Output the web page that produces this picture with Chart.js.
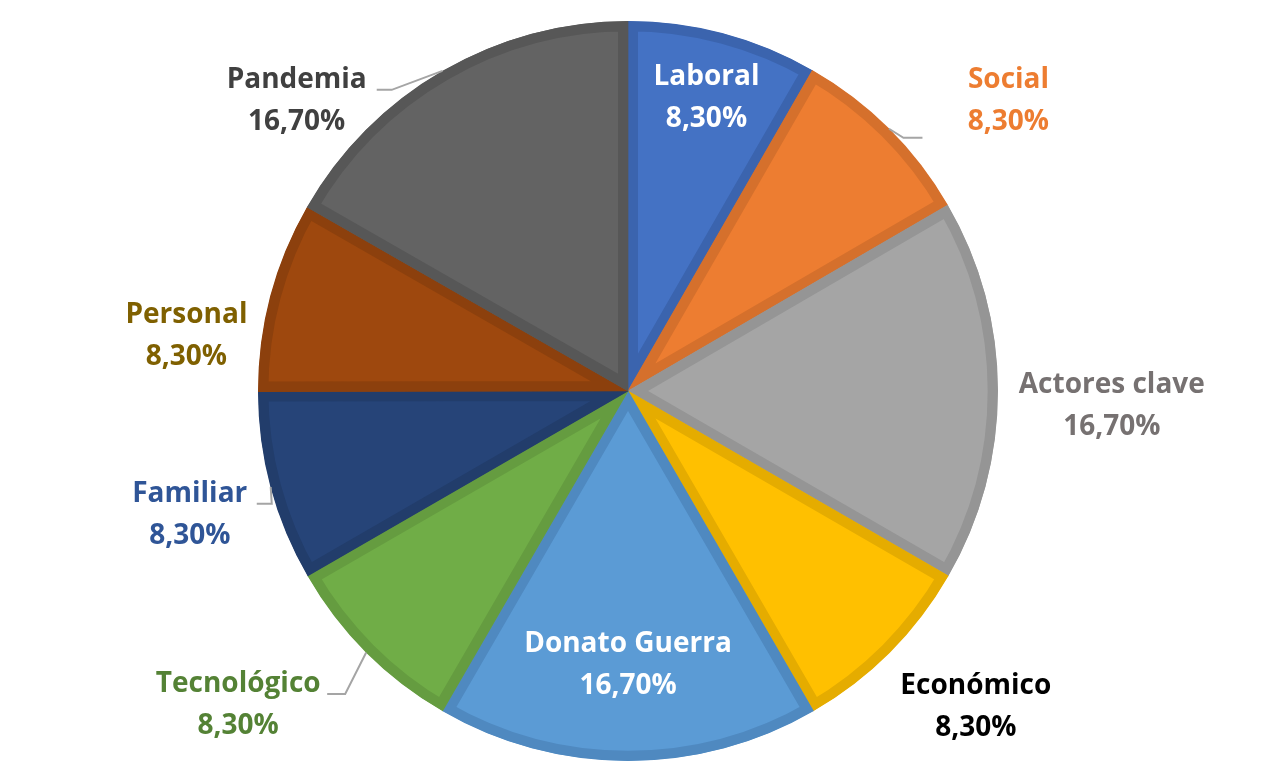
<!DOCTYPE html>
<html>
<head>
<meta charset="utf-8">
<script src="https://cdn.jsdelivr.net/npm/chart.js@4.4.1/dist/chart.umd.min.js"></script>
<style>
  body { margin: 0; background: #fff; }
  canvas { display: block; }
</style>
</head>
<body>
<canvas id="pie-chart" width="1283" height="770"></canvas>
<script>
// DATA
const categorias = ["Laboral", "Social", "Actores clave", "Económico", "Donato Guerra",
                    "Tecnológico", "Familiar", "Personal", "Pandemia"];
const porcentajes = [8.3, 8.3, 16.7, 8.3, 16.7, 8.3, 8.3, 8.3, 16.7];

// colores (relleno / borde / texto de la etiqueta)
const relleno = ["#4472C4", "#ED7D31", "#A5A5A5", "#FFC000", "#5B9BD5",
                 "#70AD47", "#264478", "#9E480E", "#636363"];
const borde = ["#3B64AE", "#D5702C", "#959595", "#E5AC00", "#4F89C0",
               "#659C40", "#223D6B", "#8C400D", "#575757"];
const colorTexto = ["#FFFFFF", "#ED7D31", "#767171", "#000000", "#FFFFFF",
                    "#548235", "#2F5597", "#7F6000", "#404040"];

// ubicacion de etiquetas: giro respecto al angulo medio (grados) y radio relativo
const posEtiqueta = [
    { da: 0,    r: 0.822 },
    { da: 7.7,  r: 1.295 },
    { da: 1.7,  r: 1.308 },
    { da: -2.8, r: 1.268 },
    { da: 0,    r: 0.738 },
    { da: 6.2,  r: 1.351 },
    { da: -0.6, r: 1.230 },
    { da: -7.6, r: 1.203 },
    { da: -18.6, r: 1.192 }
];
// lineas guia: codo y extremo relativos al centro de la etiqueta
const guias = [
    null,
    { ex: -86, cx: -105, dy: 38 },
    null,
    null,
    null,
    { ex: 89, cx: 107, dy: -10 },
    { ex: 67, cx: 82, dy: -10 },
    null,
    { ex: 80, cx: 95, dy: -10 }
];

function formato(v) {
    return v.toFixed(2).replace(".", ",") + "%";
}

const etiquetasPlugin = {
    id: "etiquetas",
    afterDatasetsDraw(chart) {
        const ctx = chart.ctx;
        const arcs = chart.getDatasetMeta(0).data;
        ctx.save();
        arcs.forEach(function (arc, i) {
            const p = arc.getProps(["x", "y", "startAngle", "endAngle", "outerRadius"], true);
            const mid = (p.startAngle + p.endAngle) / 2;
            const a = mid + posEtiqueta[i].da * Math.PI / 180;
            const lx = p.x + Math.cos(a) * p.outerRadius * posEtiqueta[i].r;
            const ly = p.y + Math.sin(a) * p.outerRadius * posEtiqueta[i].r;

            const g = guias[i];
            if (g) {
                ctx.strokeStyle = "#A5A5A5";
                ctx.lineWidth = 2;
                ctx.beginPath();
                ctx.moveTo(p.x + Math.cos(mid) * p.outerRadius, p.y + Math.sin(mid) * p.outerRadius);
                ctx.lineTo(lx + g.cx, ly + g.dy);
                ctx.lineTo(lx + g.ex, ly + g.dy);
                ctx.stroke();
            }

            ctx.fillStyle = colorTexto[i];
            ctx.font = "bold 28px 'Open Sans'";
            ctx.textAlign = "center";
            ctx.textBaseline = "middle";
            ctx.fillText(categorias[i], lx, ly - 20);
            ctx.fillText(formato(porcentajes[i]), lx, ly + 22);
        });
        ctx.restore();
    }
};

const configpie = {
    type: "pie",
    data: {
        labels: categorias,
        datasets: [{
            data: porcentajes,
            backgroundColor: relleno,
            borderColor: borde,
            borderWidth: 10,
            borderAlign: "inner",
            borderJoinStyle: "miter",
            hoverOffset: 0,
            hoverBorderWidth: 10
        }]
    },
    options: {
        responsive: false,
        animation: false,
        layout: { padding: { left: 0, right: 27, top: 21, bottom: 9 } },
        plugins: {
            legend: { display: false },
            tooltip: { enabled: false }
        }
    },
    plugins: [etiquetasPlugin]
};

const myChart = new Chart(document.getElementById("pie-chart"), configpie);
</script>
</body>
</html>
